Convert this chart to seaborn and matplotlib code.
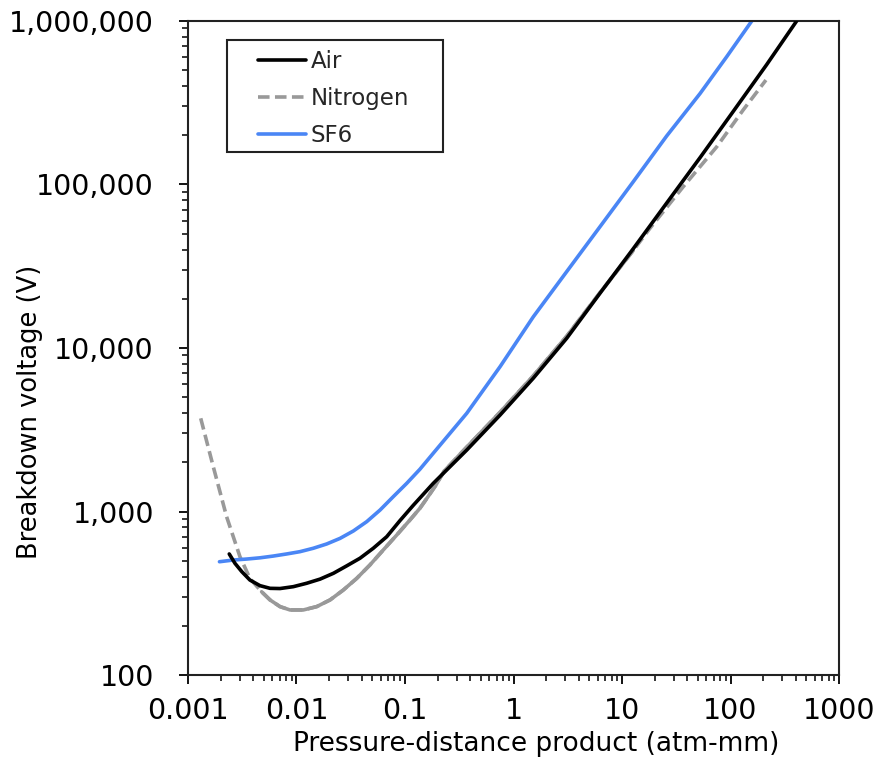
import numpy as np
import pandas as pd
import matplotlib
matplotlib.use("Agg")
import matplotlib.pyplot as plt
import matplotlib.ticker as mticker
from matplotlib.patches import Rectangle
import seaborn as sns

# values: pressure-distance product (atm-mm) and breakdown voltage (V)
air_pd = [0.00240, 0.00271, 0.00313, 0.00372, 0.00461, 0.00570, 0.00705, 0.00935, 0.0124,
          0.0165, 0.0219, 0.0290, 0.0385, 0.0510, 0.0678, 0.0899, 0.119, 0.182, 0.371,
          0.752, 1.52, 3.09, 6.27, 12.7, 25.8, 52.4, 106, 215, 407]
air_v = [550, 482, 429, 381, 352, 339, 338, 347, 364,
         386, 419, 465, 518, 596, 701, 880, 1090, 1486, 2377,
         3890, 6530, 11460, 21630, 40500, 77000, 146000, 280000, 540000, 1000000]

n2_pd = [0.00131, 0.00171, 0.00227, 0.00301, 0.00372, 0.00477, 0.00570, 0.00705, 0.00871,
         0.01156, 0.01535, 0.0204, 0.0270, 0.0359, 0.0475, 0.0631, 0.0839, 0.111, 0.137,
         0.160, 0.190, 0.230, 0.371, 0.752, 1.52, 3.09, 6.27, 12.7, 18.1, 36.7, 74.6, 131, 212]
n2_v = [3715, 1880, 929, 530, 390, 323, 288, 262, 250,
        250, 262, 288, 331, 390, 471, 582, 718, 887, 1045,
        1210, 1430, 1770, 2480, 4050, 6750, 11800, 21800, 39500, 54000, 97000, 170000, 286000, 435000]

sf6_pd = [0.00195, 0.00262, 0.00348, 0.00461, 0.00611, 0.00812, 0.01076, 0.01429, 0.01897,
          0.0252, 0.0334, 0.0444, 0.0589, 0.0780, 0.1037, 0.137, 0.182, 0.371, 0.752,
          1.52, 3.09, 6.27, 12.7, 25.8, 52.4, 92.3, 157]
sf6_v = [493, 505, 512, 521, 534, 550, 568, 596, 633,
         685, 760, 867, 1021, 1233, 1487, 1811, 2270, 3990, 7690,
         15500, 29300, 55200, 104000, 198000, 360000, 605000, 1000000]

sns.set_theme(style="white")
plt.rcParams['font.family'] = ['DejaVu Sans']

fig = plt.figure(figsize=(8.76, 7.57), dpi=100)
ax = fig.add_axes([0.2146, 0.1083, 0.7432, 0.864])

air = pd.DataFrame({"pd": air_pd, "v": air_v})
n2 = pd.DataFrame({"pd": n2_pd, "v": n2_v})
sf6 = pd.DataFrame({"pd": sf6_pd, "v": sf6_v})

sns.lineplot(data=air, x="pd", y="v", ax=ax, color="black", lw=2.6,
             label="Air", estimator=None, sort=False)
sns.lineplot(data=n2, x="pd", y="v", ax=ax, color="#999999", lw=2.6,
             label="Nitrogen", estimator=None, sort=False)
ax.lines[-1].set_dashes((3.2, 1.5))
# the dense middle stretch of the nitrogen curve reads as solid in the original
mid = n2[(n2["pd"] > 0.0045) & (n2["pd"] < 16)]
sns.lineplot(data=mid, x="pd", y="v", ax=ax, color="#999999", lw=2.6,
             estimator=None, sort=False, legend=False)
sns.lineplot(data=sf6, x="pd", y="v", ax=ax, color="#4a86f5", lw=2.6,
             label="SF6", estimator=None, sort=False)
# keep black on top where air and nitrogen overlap
ax.lines[0].set_zorder(3)

ax.set_xscale("log")
ax.set_yscale("log")
ax.set_xlim(0.001, 1000)
ax.set_ylim(100, 1000000)

ax.xaxis.set_major_formatter(mticker.FuncFormatter(lambda v, p: f"{v:g}"))
ax.yaxis.set_major_formatter(mticker.FuncFormatter(lambda v, p: f"{v:,.0f}"))
ax.xaxis.set_minor_locator(mticker.LogLocator(base=10, subs=np.arange(2, 10)))
ax.yaxis.set_minor_locator(mticker.LogLocator(base=10, subs=np.arange(2, 10)))
ax.xaxis.set_minor_formatter(mticker.NullFormatter())
ax.yaxis.set_minor_formatter(mticker.NullFormatter())

ax.tick_params(axis="both", which="major", direction="out", length=6.5, width=1.3,
               color="black", labelcolor="black", labelsize=20.5, bottom=True, left=True)
ax.tick_params(axis="x", which="major", pad=9)
ax.tick_params(axis="y", which="major", pad=18)
ax.tick_params(axis="both", which="minor", direction="out", length=4.5, width=1.1,
               color="black", bottom=True, left=True)

for s in ax.spines.values():
    s.set_color("#222222")
    s.set_linewidth(1.5)

ax.set_xlabel("Pressure-distance product (atm-mm)", fontsize=19, color="black")
ax.set_ylabel("Breakdown voltage (V)", fontsize=18.5, color="black")
ax.xaxis.set_label_coords(0.535, -0.0855)
ax.yaxis.set_label_coords(-0.222, 0.402)

# legend box drawn as its own frame, entries placed inside it
ax.add_patch(Rectangle((0.0599, 0.7997), 0.3318, 0.1712, transform=ax.transAxes,
                       fill=False, edgecolor="#222222", lw=1.5, zorder=4))
leg = ax.legend(loc="upper left", bbox_to_anchor=(0.1075, 0.955), fontsize=16.5,
                frameon=False, handlelength=2.1, handletextpad=0.2,
                labelspacing=0.6, borderpad=0, borderaxespad=0)
for h in leg.legend_handles:
    h.set_linewidth(2.6)

fig.savefig("out.png", dpi=100)
